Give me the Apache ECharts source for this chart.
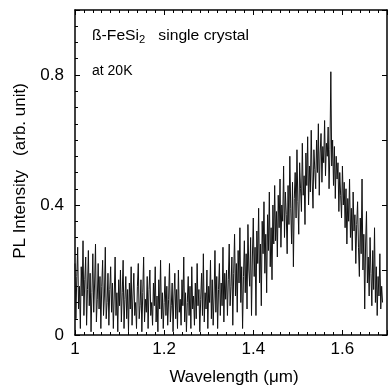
<!DOCTYPE html>
<html>
<head>
<meta charset="utf-8">
<script src="https://cdn.jsdelivr.net/npm/echarts@6/dist/echarts.min.js"></script>
<style>html,body{margin:0;padding:0;background:#fff}#c{width:390px;height:389px}</style>
</head>
<body>
<div id="c"></div>
<script>
// Wavelength grid (µm): start and step of the sampled spectrum
const wlStart = 1.0;
const wlStep = 0.002;

// PL intensity (arb. unit), segment by segment
const intensity1000 = [0.22,0.05,0.18,0.27,0.08,0.15,0.02,0.21,0.12,0.29,0.06,0.17,0.24,0.03,0.14,0.26,0.09,0.19,0.01,0.13,
0.25,0.07,0.16,0.28,0.04,0.11,0.22,0.08,0.18,0.02,0.15,0.23,0.06,0.12,0.27,0.05,0.10,0.19,0.03,0.14,
0.21,0.07,0.16,0.02,0.12,0.24,0.06,0.13,0.01,0.17];
const intensity1100 = [0.09,0.20,0.04,0.13,0.23,0.02,0.11,0.18,0.05,0.14,
0.01,0.16,0.08,0.21,0.03,0.12,0.19,0.06,0.10,0.02,
0.15,0.22,0.05,0.09,0.17,0.01,0.13,0.24,0.04,0.11,
0.07,0.18,0.02,0.14,0.20,0.06,0.10,0.03,0.16,0.09,
0.21,0.04,0.12,0.01,0.17,0.08,0.23,0.05,0.13,0.02,
0.10,0.18,0.06,0.15,0.03,0.11,0.22,0.04,0.09,0.16,
0.01,0.12,0.19,0.05,0.14,0.02,0.20,0.07,0.11,0.03,
0.17,0.09,0.24,0.04,0.13,0.01,0.10,0.18,0.06,0.15,
0.02,0.21,0.08,0.12,0.03,0.16,0.05,0.22,0.09,0.14,
0.01,0.11,0.19,0.06,0.25,0.04,0.13,0.08,0.20,0.02,
0.15,0.10,0.23,0.05,0.17,0.03,0.12,0.26,0.07,0.18,
0.02,0.14,0.22,0.06,0.16,0.09,0.27,0.04,0.19,0.11];
const intensity1340 = [0.20,0.06,0.17,0.28,0.09,0.15,0.24,0.03,0.19,0.31,
0.12,0.22,0.07,0.26,0.16,0.33,0.10,0.21,0.02,0.18,
0.29,0.13,0.25,0.08,0.34,0.20,0.15,0.30,0.06,0.24,
0.36,0.18,0.27,0.06,0.32,0.22,0.39,0.16,0.28,0.09,
0.35,0.25,0.41,0.19,0.31,0.13,0.37,0.26,0.44,0.21,
0.33,0.17,0.40,0.28,0.46];
const intensity1450 = [0.29,0.38,0.24,0.43,0.33,0.48,0.27,0.40,0.35,0.52,
0.30,0.44,0.37,0.25,0.46,0.34,0.55,0.39,0.28,0.47,
0.21,0.42,0.50,0.36,0.57,0.41,0.31,0.53,0.45,0.38,
0.59,0.43,0.49,0.34,0.56,0.46,0.61,0.40,0.52,0.44,
0.63,0.48,0.39,0.57,0.51];
const intensity1540 = [0.45,0.60,0.50,0.65,0.43,0.56,0.62,0.47,0.58,0.53,
0.66,0.49,0.59,0.55,0.64,0.45,0.57,0.81,0.52,0.60,
0.46,0.58,0.42,0.55,0.48];
const intensity1590 = [0.53,0.38,0.50,0.43,0.36,0.52,0.40,0.47,0.33,0.45,
0.28,0.42,0.35,0.48,0.30,0.39,0.26,0.44,0.32,0.37,
0.22,0.34,0.41,0.27,0.18,0.36,0.25,0.48,0.20,0.31,
0.08,0.28,0.38,0.16,0.24,0.12,0.30,0.19,0.09,0.26,
0.14,0.33,0.10,0.21,0.06,0.18,0.12,0.25,0.08,0.15,0.10];

const xTicks = [1, 1.2, 1.4, 1.6];
const yTicks = [0, 0.4, 0.8];

const intensity = [].concat(intensity1000, intensity1100, intensity1340, intensity1450, intensity1540, intensity1590);
const points = intensity.map((v, i) => [+(wlStart + i * wlStep).toFixed(4), v]);

const FONT = '"Liberation Sans", Arial, sans-serif';
const axisLine = { show: true, onZero: false, lineStyle: { color: '#000', width: 1.5 } };
const tick = { show: true, inside: true, length: 5, lineStyle: { color: '#000' } };
const minor = (n) => ({ show: true, splitNumber: n, length: 3, lineStyle: { color: '#000' } });

const chart = echarts.init(document.getElementById('c'), null, { renderer: 'canvas' });
chart.setOption({
  animation: false,
  backgroundColor: '#fff',
  grid: { left: 75, top: 10, right: -4, bottom: 54, containLabel: false },
  xAxis: [
    {
      type: 'value', min: 1, max: 1.7, interval: 0.2, position: 'bottom',
      axisLine: axisLine, axisTick: tick, minorTick: minor(10), splitLine: { show: false },
      axisLabel: {
        color: '#000', fontFamily: FONT, fontSize: 17, margin: 6,
        formatter: v => xTicks.some(t => Math.abs(t - v) < 1e-6) ? (Math.abs(v - 1) < 1e-6 ? '1' : v.toFixed(1)) : ''
      }
    },
    {
      type: 'value', min: 1, max: 1.7, interval: 0.2, position: 'top',
      axisLine: axisLine, axisTick: tick, minorTick: minor(10), splitLine: { show: false },
      axisLabel: { show: false }
    }
  ],
  yAxis: [
    {
      type: 'value', min: 0, max: 1.0, interval: 0.4, position: 'left',
      axisLine: axisLine, axisTick: tick, minorTick: minor(8), splitLine: { show: false },
      axisLabel: {
        color: '#000', fontFamily: FONT, fontSize: 17, margin: 11,
        formatter: v => yTicks.some(t => Math.abs(t - v) < 1e-6) ? (v === 0 ? '0' : v.toFixed(1)) : ''
      }
    },
    {
      type: 'value', min: 0, max: 1.0, interval: 0.2, position: 'right',
      axisLine: axisLine, axisTick: tick, minorTick: { show: false }, splitLine: { show: false },
      axisLabel: { show: false }
    }
  ],
  graphic: [
    {
      type: 'text', left: 92, top: 29, scaleX: 1.12,
      style: {
        text: 'ß-FeSi{sub|2}   single crystal',
        font: '14px ' + FONT, fill: '#000',
        rich: { sub: { fontSize: 10, verticalAlign: 'bottom', padding: [9, 0, 0, 0], fontFamily: FONT, fill: '#000' } }
      }
    },
    { type: 'text', left: 92, top: 64, style: { text: 'at 20K', font: '14px ' + FONT, fill: '#000' } },
    {
      type: 'text', x: 20, y: 171, rotation: Math.PI / 2,
      style: { text: 'PL Intensity   (arb. unit)', font: '17px ' + FONT, fill: '#000', align: 'center', verticalAlign: 'middle' }
    },
    {
      type: 'text', x: 234, y: 377,
      style: { text: 'Wavelength (μm)', font: '17px ' + FONT, fill: '#000', align: 'center', verticalAlign: 'middle' }
    }
  ],
  series: [{
    type: 'line', data: points, xAxisIndex: 0, yAxisIndex: 0,
    showSymbol: false, symbol: 'none',
    lineStyle: { color: '#111', width: 1 }
  }]
});
</script>
</body>
</html>
